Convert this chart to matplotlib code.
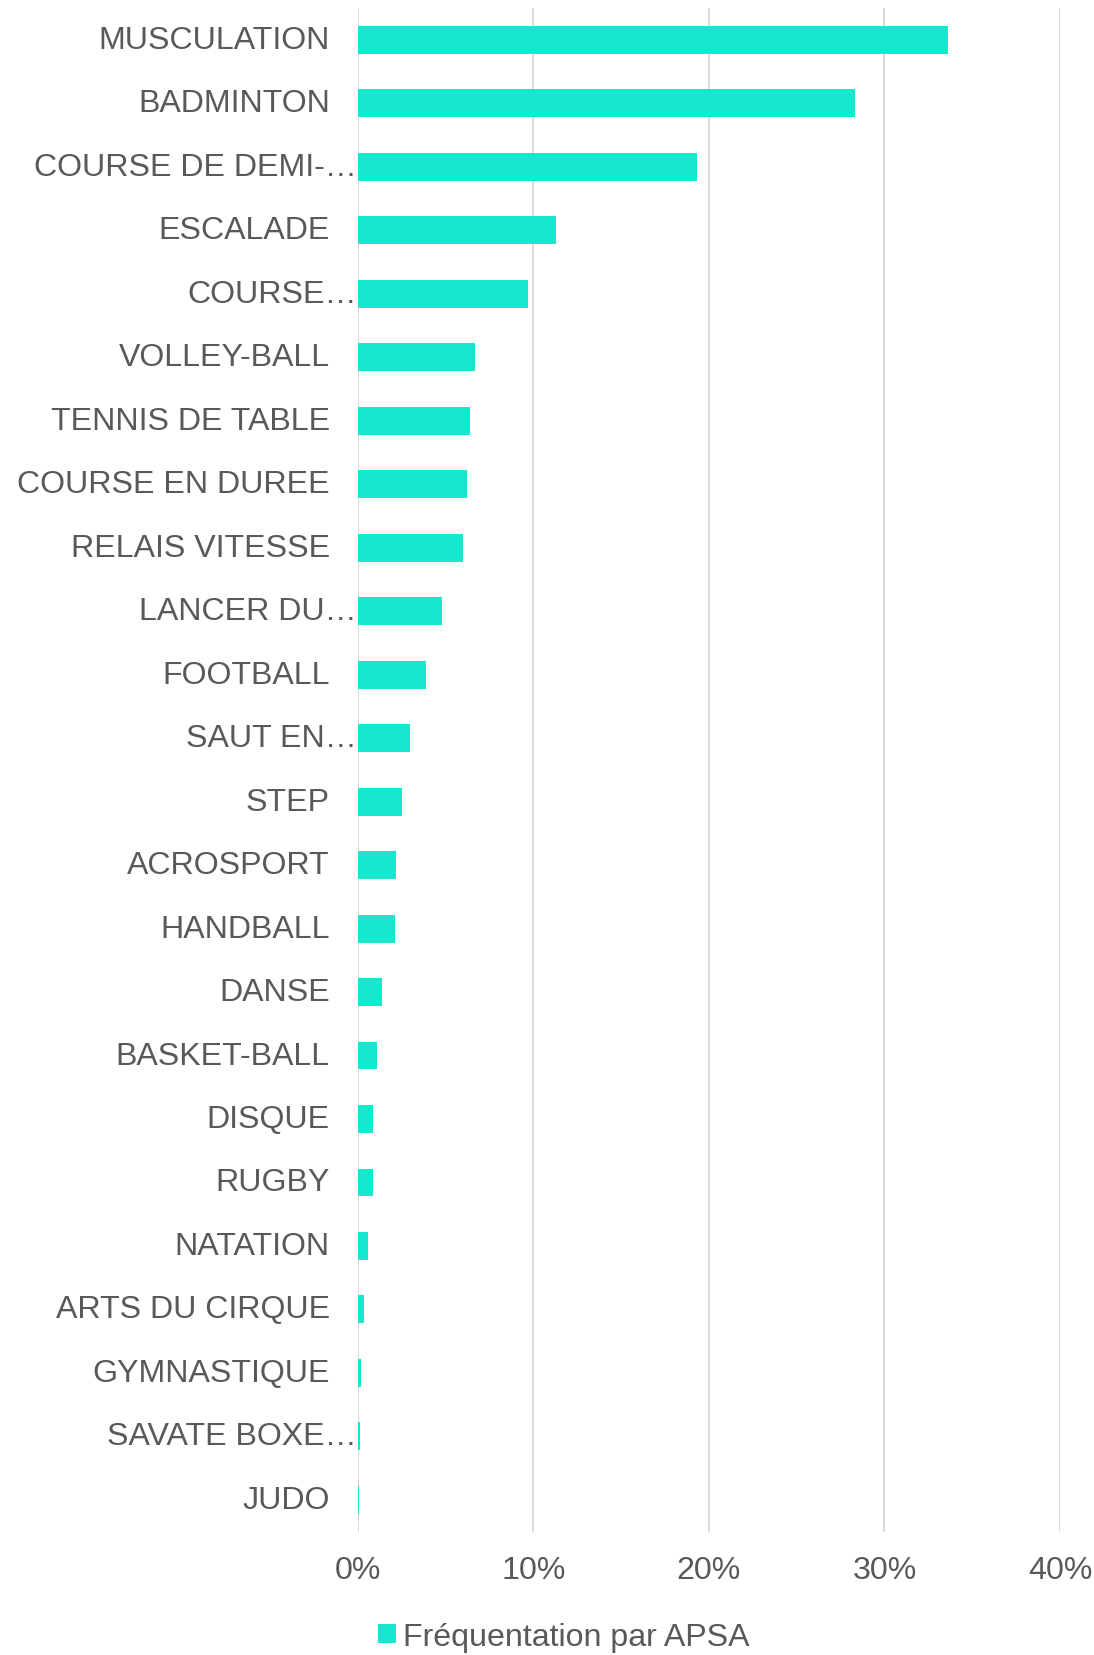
import matplotlib.pyplot as plt

plt.rcParams['font.family'] = ['Liberation Sans', 'DejaVu Sans']

# donnees (en %)
activites = ['MUSCULATION', 'BADMINTON', 'COURSE DE DEMI-…', 'ESCALADE', 'COURSE…',
             'VOLLEY-BALL', 'TENNIS DE TABLE', 'COURSE EN DUREE', 'RELAIS VITESSE',
             'LANCER DU…', 'FOOTBALL', 'SAUT EN…', 'STEP', 'ACROSPORT', 'HANDBALL',
             'DANSE', 'BASKET-BALL', 'DISQUE', 'RUGBY', 'NATATION', 'ARTS DU CIRQUE',
             'GYMNASTIQUE', 'SAVATE BOXE…', 'JUDO']
frequentation = [33.6, 28.3, 19.3, 11.3, 9.7, 6.7, 6.4, 6.2, 6.0, 4.8, 3.9, 3.0,
                 2.5, 2.2, 2.1, 1.4, 1.1, 0.85, 0.85, 0.6, 0.35, 0.2, 0.12, 0.1]
graduations = [0, 10, 20, 30, 40]
legende = 'Fréquentation par APSA'

couleur = '#16E8D0'
gris_texte = '#595959'
taille = 23.1

fig = plt.figure(figsize=(10.94, 16.56), dpi=100)
ax = fig.add_axes([0.327, 0.0745, 0.642, 0.920])

pos = list(range(len(activites)))
ax.barh(pos, frequentation, height=0.44, color=couleur, zorder=3, label=legende)

ax.set_ylim(len(activites) - 0.5, -0.5)
ax.set_xlim(0, 40)
ax.set_xticks(graduations)
ax.set_xticklabels([str(g) + '%' for g in graduations])
ax.set_yticks(pos)
ax.set_yticklabels([''] * len(pos))
ax.tick_params(axis='both', length=0, labelsize=taille, labelcolor=gris_texte)
ax.tick_params(axis='x', pad=17)

# etiquettes de categories (Excel colle les textes tronques a l'axe)
for i, nom in enumerate(activites):
    decal = -0.5 if nom.endswith('…') else -20
    ax.annotate(nom, xy=(0, i), xycoords='data', xytext=(decal, 0),
                textcoords='offset points', ha='right', va='center',
                fontsize=taille, color=gris_texte, annotation_clip=False)

ax.grid(axis='x', color='#d9d9d9', linewidth=1.4, zorder=0)
for s in ['top', 'right', 'bottom', 'left']:
    ax.spines[s].set_visible(False)

fig.legend(loc='center', bbox_to_anchor=(0.5155, 0.011), frameon=False,
           fontsize=taille, labelcolor=gris_texte, handlelength=0.55,
           handleheight=0.55, handletextpad=0.22, borderpad=0, borderaxespad=0)

fig.savefig('out.png', dpi=100)
